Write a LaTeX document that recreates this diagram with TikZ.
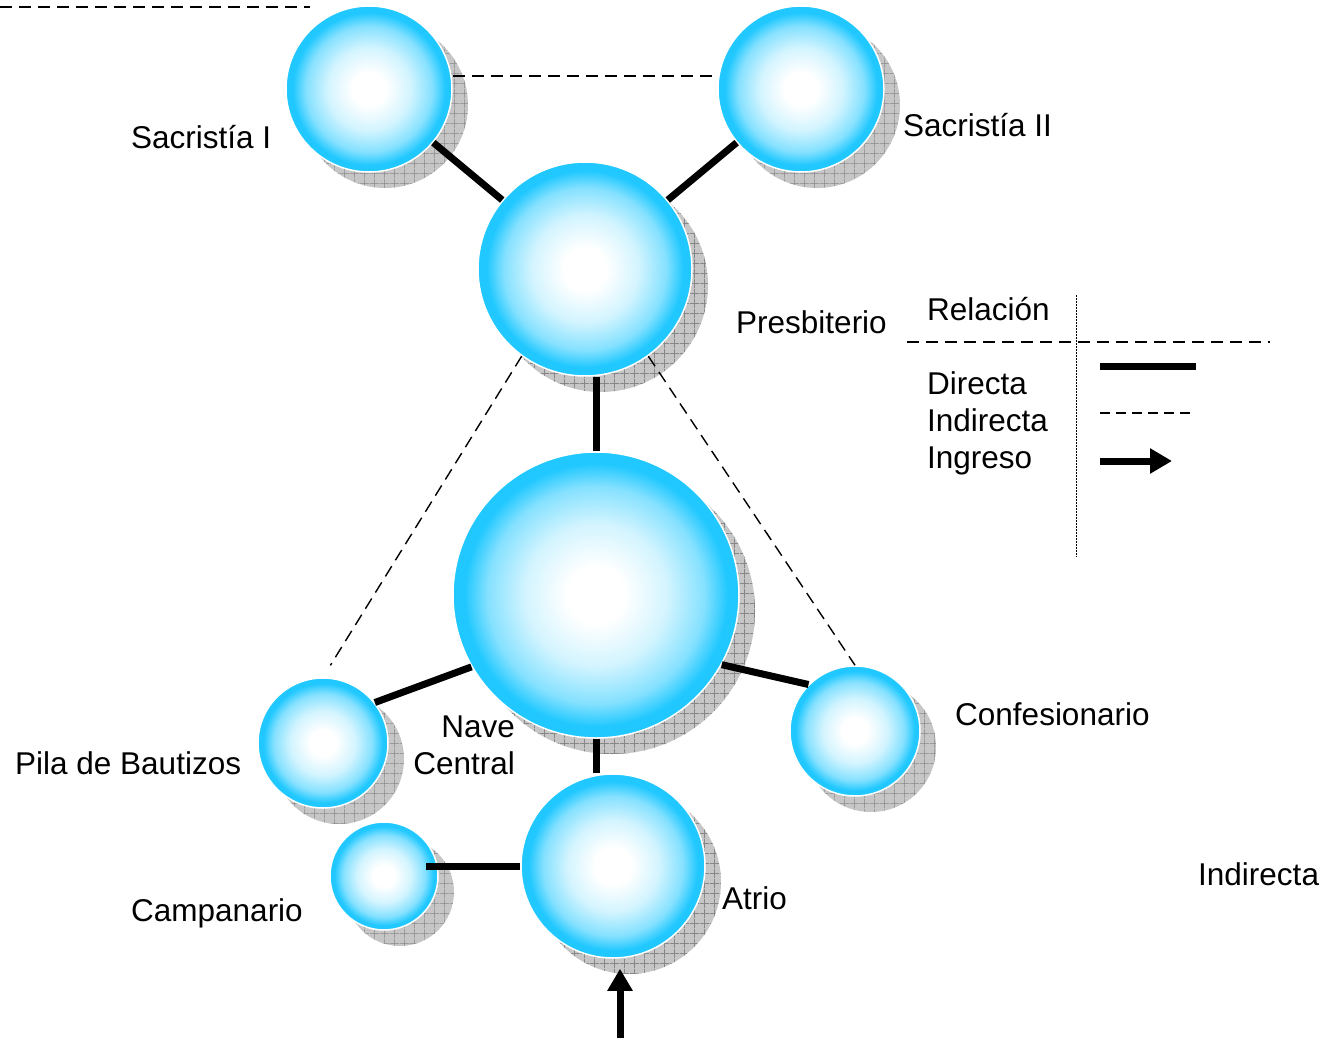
\documentclass[tikz,border=0pt]{standalone}
\usepackage{fontspec}
\setmainfont{Liberation Sans}
\usetikzlibrary{arrows.meta, shadows, patterns.meta}

\definecolor{skyblue}{RGB}{32,200,255}
\definecolor{shadowgrey}{RGB}{198,198,198}
\definecolor{gridgrey}{RGB}{135,135,135}

% sphere look: white centre fading to sky blue at the rim
\pgfdeclareradialshading{sphere}{\pgfpoint{0bp}{0bp}}{color(0bp)=(white); color(5bp)=(white); color(12.5bp)=(skyblue!20!white); color(19bp)=(skyblue!55!white); color(23bp)=(skyblue); color(25bp)=(skyblue); color(50bp)=(skyblue)}

% cross-hatched grid for the drop shadows
\tikzdeclarepattern{
  name=shadowgrid,
  type=uncolored,
  bottom left={(0pt,0pt)},
  top right={(10pt,10pt)},
  tile size={(10pt,10pt)},
  code={\draw[line width=0.7pt] (0pt,5pt) -- (10pt,5pt) (5pt,0pt) -- (5pt,10pt);}
}

\begin{document}
\begin{tikzpicture}[x=1pt, y=-1pt, font=\fontsize{31.5}{37}\selectfont, line join=round,
    room/.style={circle, inner sep=0pt, minimum size=#1, shading=sphere, draw=white, line width=1.5pt,
      general shadow={fill=shadowgrey, shadow xshift=16pt, shadow yshift=-16pt},
      general shadow={pattern=shadowgrid, pattern color=gridgrey, shadow xshift=16pt, shadow yshift=-16pt}},
    direct/.style={line width=7pt},
    indirect/.style={line width=1.4pt, dash pattern=on 12pt off 7pt},
    entry/.style={line width=7pt, -{Triangle[width=24pt, length=22pt]}},
    roomname/.style={anchor=base west, inner sep=0pt}]

    \useasboundingbox (0,0) rectangle (1336,1038);

    % ==========================================
    % ROOMS
    % ==========================================
    \node[room=166pt] (sacI)  at (369,89)  {};
    \node[room=166pt] (sacII) at (801,89)  {};
    \node[room=214pt] (presb) at (585,269) {};
    \node[room=286pt] (nave)  at (596,595) {};
    \node[room=130pt] (pila)  at (323,743) {};
    \node[room=130pt] (confe) at (855,731) {};
    \node[room=108pt] (campa) at (384,876) {};
    \node[room=184pt] (atrio) at (613,866) {};

    % ==========================================
    % CONNECTIONS
    % ==========================================

    % Direct relations
    \draw[direct] (sacI) -- (presb);
    \draw[direct] (sacII) -- (presb);
    \draw[direct] (presb.south -| nave.north) -- (nave.north);
    \draw[direct] (nave.210) -- (pila.38);
    \draw[direct] (nave.331) -- (confe.135);
    \draw[direct] (nave.south) -- (nave.south |- atrio.north);
    \draw[direct, shorten >=-13pt] (atrio.west) -- (atrio.west -| campa.east);

    % Indirect relations
    \draw[indirect] ([yshift=13pt]sacI.east) -- ([yshift=13pt]sacII.west);
    \draw[indirect, shorten >=14pt] (presb.234) -- (pila.north);
    \draw[indirect] (presb.306) -- (confe.north);

    \coordinate (topA) at (0,7);
    \coordinate (topB) at (310,7);
    \draw[indirect] (topA) -- (topB);

    % Entrance
    \coordinate (entrada) at (620,1040);
    \draw[entry, shorten >=10pt] (entrada) -- (entrada |- atrio.south);

    % ==========================================
    % LABELS
    % ==========================================
    \node[roomname] (tsacI)  at (131,149) {Sacristía I};
    \node[roomname] (tsacII) at (903,137) {Sacristía II};
    \node[roomname] (tpresb) at (736,333) {Presbiterio};
    \node[roomname, anchor=base east] (tnave) at (515,737) {Nave};
    \node[roomname, anchor=base east] (tcentral) at (515,774) {Central};
    \node[roomname] (tpila)  at (15,774)  {Pila de Bautizos};
    \node[roomname] (tconfe) at (955,725) {Confesionario};
    \node[roomname] (tcampa) at (131,921) {Campanario};
    \node[roomname] (tatrio) at (722,909) {Atrio};
    \node[roomname] (tindir) at (1198,885) {Indirecta};

    % ==========================================
    % LEGEND
    % ==========================================
    \node[roomname] (relacion) at (927,320) {Relación};
    \node[roomname] (ldirecta) at (927,394) {Directa};
    \node[roomname] (lindirecta) at (927,431) {Indirecta};
    \node[roomname] (lingreso) at (927,468) {Ingreso};

    \coordinate (divtop) at (1076,295);
    \coordinate (divbot) at (1076,557);
    \draw[line width=1pt, dash pattern=on 1.5pt off 1.5pt] (divtop) -- (divbot);

    \coordinate (headA) at (907,342);
    \coordinate (headB) at (1270,342);
    \draw[indirect] (headA) -- (headB);

    \coordinate (sampleA) at (1100,366);
    \draw[direct] (sampleA) -- ++(96,0);
    \coordinate (sampleB) at (1100,413);
    \draw[line width=1.4pt, dash pattern=on 10pt off 6pt] (sampleB) -- ++(96,0);
    \coordinate (sampleC) at (1100,461);
    \draw[entry] (sampleC) -- ++(72,0);

\end{tikzpicture}
\end{document}
